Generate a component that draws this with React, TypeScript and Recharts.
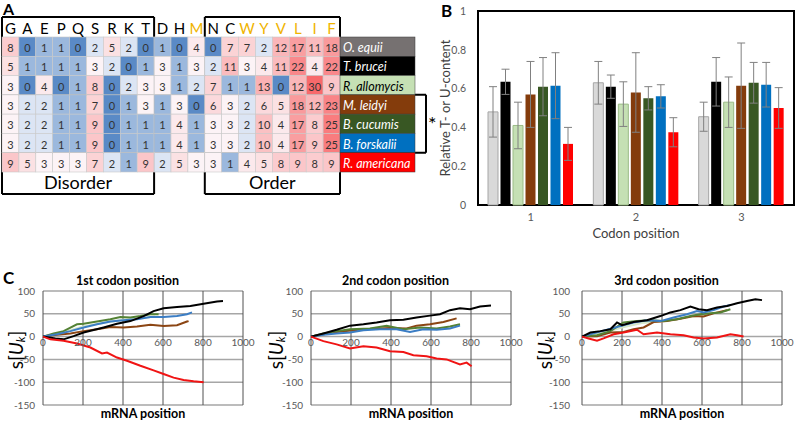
import React from 'react';
import {
  ScatterChart,
  Scatter,
  XAxis,
  YAxis,
  ReferenceLine,
  BarChart,
  Bar,
  ErrorBar,
  ReferenceArea,
  LineChart,
  Line,
  CartesianGrid,
} from 'recharts';

const FONT = 'Lato, "Noto Sans", sans-serif';

// ─── Panel A: residue counts per species ─────────────────────────────────────
const residues = ['G', 'A', 'E', 'P', 'Q', 'S', 'R', 'K', 'T', 'D', 'H', 'M', 'N', 'C', 'W', 'Y', 'V', 'L', 'I', 'F'];
const orangeResidues = ['M', 'W', 'Y', 'V', 'L', 'I', 'F'];
const speciesNames = ['O. equii', 'T. brucei', 'R. allomycis', 'M. leidyi', 'B. cucumis', 'B. forskalii', 'R. americana'];
const speciesFill = ['#767171', '#000000', '#c5e0b4', '#843c0c', '#385723', '#0070c0', '#ff0000'];
const speciesInk = ['#ffffff', '#ffffff', '#000000', '#ffffff', '#ffffff', '#ffffff', '#ffffff'];

const countsOEquii = [8, 0, 1, 1, 0, 2, 5, 2, 0, 1, 0, 4, 0, 7, 7, 2, 12, 17, 11, 18];
const countsTBrucei = [5, 1, 1, 1, 1, 3, 2, 0, 1, 3, 1, 3, 2, 11, 3, 4, 11, 22, 4, 22];
const countsRAllomycis = [3, 0, 4, 0, 1, 8, 0, 2, 3, 3, 1, 2, 7, 1, 1, 13, 0, 12, 30, 9];
const countsMLeidyi = [3, 2, 2, 1, 1, 7, 0, 1, 3, 1, 3, 0, 6, 3, 2, 6, 5, 18, 12, 23];
const countsBCucumis = [3, 2, 2, 1, 1, 9, 0, 1, 1, 1, 4, 1, 3, 3, 2, 10, 4, 17, 8, 25];
const countsBForskalii = [3, 2, 2, 1, 1, 9, 0, 1, 1, 1, 4, 1, 3, 3, 2, 10, 4, 17, 9, 25];
const countsRAmericana = [9, 5, 3, 3, 3, 7, 2, 1, 9, 2, 5, 3, 3, 1, 4, 5, 8, 9, 8, 9];
const regionNames = ['Disorder', 'Order'];

// ─── Panel B: relative T/U content ───────────────────────────────────────────
const codonPositions = ['1', '2', '3'];
const tuOEquii = [0.48, 0.63, 0.455];
const tuTBrucei = [0.635, 0.61, 0.635];
const tuRAllomycis = [0.41, 0.52, 0.53];
const tuMLeidyi = [0.57, 0.58, 0.615];
const tuBCucumis = [0.61, 0.55, 0.63];
const tuBForskalii = [0.615, 0.56, 0.62];
const tuRAmericana = [0.315, 0.375, 0.5];
const sdOEquii = [0.13, 0.11, 0.075];
const sdTBrucei = [0.065, 0.06, 0.125];
const sdRAllomycis = [0.12, 0.115, 0.13];
const sdMLeidyi = [0.17, 0.205, 0.22];
const sdBCucumis = [0.15, 0.06, 0.105];
const sdBForskalii = [0.17, 0.06, 0.115];
const sdRAmericana = [0.085, 0.075, 0.105];

// ─── Panel C: cumulative U skew along mRNA, [position, s] ─────────────────────
const c1LightGreen = [[0, 0], [100, 9], [200, 22], [300, 30], [400, 37], [500, 41], [560, 44]];
const c1Brown = [[0, 0], [70, 4], [137, 7], [203, 12], [270, 16], [337, 21], [403, 20], [470, 22], [537, 26], [603, 23], [670, 25], [720, 33], [728, 34]];
const c1Green = [[0, 0], [53, 7], [103, 12], [170, 27], [203, 28], [270, 33], [337, 38], [387, 43], [437, 42], [487, 45], [537, 49], [578, 49]];
const c1Blue = [[0, 0], [70, 5], [137, 12], [203, 20], [270, 27], [337, 33], [403, 36], [470, 38], [537, 43], [603, 43], [670, 45], [720, 49], [745, 53]];
const c1Black = [[0, 0], [62, -4], [103, -6], [153, 1], [203, 9], [303, 20], [370, 28], [437, 34], [503, 45], [553, 56], [603, 62], [670, 65], [737, 67], [803, 72], [870, 77], [900, 78]];
const c1Red = [[0, 0], [37, -6], [103, -9], [170, -15], [237, -24], [295, -37], [320, -35], [370, -46], [420, -53], [487, -64], [553, -74], [603, -82], [653, -90], [703, -95], [753, -98], [803, -100]];

const c2Brown = [[0, 0], [128, 10], [262, 16], [395, 19], [478, 18], [528, 24], [595, 27], [662, 32], [728, 40]];
const c2Green = [[0, 0], [62, 7], [128, 12], [195, 16], [295, 18], [378, 24], [462, 16], [545, 20], [628, 18], [695, 22], [745, 27]];
const c2Blue = [[0, 0], [62, 4], [128, 7], [195, 9], [262, 14], [345, 16], [428, 16], [495, 10], [562, 16], [628, 15], [695, 18], [745, 24]];
const c2Black = [[0, 0], [62, 7], [128, 15], [195, 24], [262, 27], [328, 31], [395, 36], [462, 37], [528, 42], [595, 46], [645, 49], [695, 58], [745, 62], [795, 60], [845, 66], [900, 68]];
const c2Red = [[0, 0], [62, -10], [128, -17], [195, -26], [262, -21], [328, -24], [395, -32], [462, -34], [512, -41], [578, -43], [628, -48], [678, -50], [745, -61], [778, -57], [803, -65]];

const c3LightGreen = [[0, 0], [100, 8], [200, 20], [300, 30], [400, 33], [500, 40], [600, 47], [700, 55]];
const c3Brown = [[0, 0], [75, 1], [142, 9], [208, 10], [258, 16], [308, 20], [358, 32], [425, 34], [492, 39], [558, 45], [608, 44], [658, 51], [725, 58]];
const c3Green = [[0, 0], [75, 3], [142, 12], [208, 31], [275, 34], [342, 36], [408, 34], [475, 38], [542, 45], [592, 49], [642, 51], [692, 53], [742, 60]];
const c3Blue = [[0, 0], [58, 7], [125, 15], [192, 23], [258, 31], [325, 36], [392, 34], [458, 42], [525, 49], [575, 56], [608, 53], [658, 58], [708, 66], [740, 69]];
const c3Black = [[0, 0], [42, 9], [92, 12], [142, 16], [175, 31], [200, 25], [258, 32], [325, 36], [392, 45], [442, 53], [492, 58], [542, 66], [583, 60], [625, 58], [675, 64], [725, 67], [775, 73], [825, 78], [867, 82], [900, 80]];
const c3Red = [[0, 0], [33, -4], [75, -9], [108, -4], [158, 5], [208, 9], [275, 15], [308, 5], [375, 9], [442, 5], [508, 3], [558, -2], [608, -4], [675, -2], [742, 5], [775, 3], [808, 0]];

const walkTicksX = [0, 200, 400, 600, 800, 1000];
const walkTicksY = [-150, -100, -50, 0, 50, 100];

// ─── helpers ─────────────────────────────────────────────────────────────────
const CW = 16.9; // cell width
const RH = 19.3; // row height
const A_TOP = 17;
const A_HEAD = 20;

function hexToRgb(h: string) {
  const n = parseInt(h.slice(1), 16);
  return [(n >> 16) & 255, (n >> 8) & 255, n & 255];
}
function mix(a: string, b: string, t: number) {
  const A = hexToRgb(a);
  const B = hexToRgb(b);
  const c = A.map((v, i) => Math.round(v + (B[i] - v) * t));
  return `rgb(${c[0]},${c[1]},${c[2]})`;
}
function heat(v: number) {
  const mid = 2.5;
  if (v <= mid) return mix('#fcfcff', '#5a8ac6', (mid - v) / mid);
  return mix('#fcfcff', '#f8696b', Math.pow((v - mid) / (30 - mid), 0.7));
}

const allCounts = [countsOEquii, countsTBrucei, countsRAllomycis, countsMLeidyi, countsBCucumis, countsBForskalii, countsRAmericana];
const cells = allCounts.flatMap((row, r) => row.map((v, c) => ({ c, r, v })));

function HeatCell(props: any) {
  const { cx, cy, payload } = props;
  return (
    <g>
      <rect x={cx - CW / 2} y={cy - RH / 2} width={CW} height={RH} fill={heat(payload.v)} stroke="#c9c9c9" strokeWidth={0.6} />
      <text x={cx} y={cy + 1} textAnchor="middle" dominantBaseline="central" fontSize={11} fill="#333" fontFamily={FONT}>
        {payload.v}
      </text>
    </g>
  );
}

function HeaderTick(props: any) {
  const { x, payload } = props;
  const letter = residues[payload.value];
  return (
    <text x={x} y={A_TOP + A_HEAD / 2 + 1} textAnchor="middle" dominantBaseline="central" fontSize={15} fontFamily={FONT}
      fill={orangeResidues.includes(letter) ? '#f0b400' : '#000'}>
      {letter}
    </text>
  );
}

function SpeciesTick(props: any) {
  const { x, y, payload } = props;
  const i = payload.value;
  return (
    <g>
      <rect x={x} y={y - RH / 2} width={75} height={RH} fill={speciesFill[i]} stroke="#3a3a3a" strokeWidth={0.5} />
      <text x={x + 3} y={y + 1} dominantBaseline="central" fontSize={12.5} fontStyle="italic" fontFamily={FONT} fill={speciesInk[i]}>
        {speciesNames[i]}
      </text>
    </g>
  );
}

const HT = -0.5 - A_HEAD / RH; // header top in row units
const BT = 6.5 + 22 / RH; // region box bottom
const BX = 19.5 + 86 / CW; // bracket x

const frame: [number, number, number, number][] = [
  [-0.5, HT, -0.5, BT],
  [8.5, HT, 8.5, BT],
  [11.5, HT, 11.5, BT],
  [19.5, HT, 19.5, BT],
  [-0.5, HT, 8.5, HT],
  [11.5, HT, 19.5, HT],
  [-0.5, 2.5, BX, 2.5],
  [-0.5, 5.5, BX, 5.5],
];
const regionBottoms: [number, number][] = [
  [-0.5, 8.5],
  [11.5, 19.5],
];

function PanelA() {
  return (
    <ScatterChart width={445} height={200} margin={{ top: A_TOP, right: 30, bottom: 28, left: 2 }}>
      <XAxis xAxisId="top" orientation="top" type="number" dataKey="c" domain={[-0.5, 19.5]}
        ticks={residues.map((_, i) => i)} interval={0} height={A_HEAD} axisLine={false} tickLine={false}
        tickSize={0} tickMargin={0} tick={<HeaderTick />} />
      <YAxis yAxisId="sp" orientation="right" type="number" dataKey="r" domain={[-0.5, 6.5]} reversed
        ticks={speciesNames.map((_, i) => i)} interval={0} width={75} axisLine={false} tickLine={false}
        tickSize={0} tickMargin={0} tick={<SpeciesTick />} />
      <Scatter data={cells} xAxisId="top" yAxisId="sp" shape={(p: any) => <HeatCell {...p} />} isAnimationActive={false} />
      {frame.map((s, i) => (
        <ReferenceLine key={i} xAxisId="top" yAxisId="sp" ifOverflow="visible"
          segment={[{ x: s[0], y: s[1] }, { x: s[2], y: s[3] }]} stroke="#000" strokeWidth={2} />
      ))}
      {regionBottoms.map((s, i) => (
        <ReferenceLine key={'r' + i} xAxisId="top" yAxisId="sp" ifOverflow="visible"
          segment={[{ x: s[0], y: BT }, { x: s[1], y: BT }]} stroke="#000" strokeWidth={2}
          label={{ value: regionNames[i], position: 'top', offset: 5, fontSize: 18, fill: '#000', fontFamily: FONT }} />
      ))}
      <ReferenceLine xAxisId="top" yAxisId="sp" ifOverflow="visible"
        segment={[{ x: BX, y: 2.5 }, { x: BX, y: 5.5 }]} stroke="#000" strokeWidth={2}
        label={{ value: '*', position: 'right', fontSize: 20, fill: '#000', offset: 2 }} />
    </ScatterChart>
  );
}

// ─── Panel B ─────────────────────────────────────────────────────────────────
const barSeries = [
  { key: 'oe', values: tuOEquii, errors: sdOEquii, fill: '#d9d9d9', stroke: '#a6a6a6' },
  { key: 'tb', values: tuTBrucei, errors: sdTBrucei, fill: '#000000', stroke: 'none' },
  { key: 'ra', values: tuRAllomycis, errors: sdRAllomycis, fill: '#c5e0b4', stroke: '#9bbb86' },
  { key: 'ml', values: tuMLeidyi, errors: sdMLeidyi, fill: '#843c0c', stroke: 'none' },
  { key: 'bc', values: tuBCucumis, errors: sdBCucumis, fill: '#385723', stroke: 'none' },
  { key: 'bf', values: tuBForskalii, errors: sdBForskalii, fill: '#0070c0', stroke: 'none' },
  { key: 'rm', values: tuRAmericana, errors: sdRAmericana, fill: '#ff0000', stroke: 'none' },
];

const barData = codonPositions.map((pos, i) => {
  const row: any = { pos };
  barSeries.forEach((s) => {
    row[s.key] = s.values[i];
    row[s.key + 'Err'] = s.errors[i];
  });
  return row;
});

const B_TOP = 11;
const B_PLOT_H = 194;

function BarYTitle() {
  const cx = 25;
  const cy = B_TOP + B_PLOT_H / 2;
  return (
    <text x={cx} y={cy} transform={`rotate(-90, ${cx}, ${cy})`} textAnchor="middle" dominantBaseline="central"
      fontSize={13} fill="#404040" fontFamily={FONT}>
      Relative T- or U-content
    </text>
  );
}

function BarXTitle(props: any) {
  const { viewBox } = props;
  return (
    <text x={viewBox.x + viewBox.width / 2} y={B_TOP + B_PLOT_H + 33} textAnchor="middle" fontSize={13} fill="#404040" fontFamily={FONT}>
      Codon position
    </text>
  );
}

function PanelB() {
  return (
    <BarChart width={375} height={245} data={barData} margin={{ top: B_TOP, right: 1, left: 0, bottom: 0 }}
      barSize={10} barGap={2.5}>
      <XAxis dataKey="pos" height={40} axisLine={false} tickLine={false} tickSize={0} tickMargin={8}
        tick={{ fontSize: 11, fill: '#595959', fontFamily: FONT }} label={<BarXTitle />} />
      <YAxis domain={[0, 1]} ticks={[0, 0.2, 0.4, 0.6, 0.8, 1]} width={58} axisLine={false} tickLine={false}
        tickSize={0} tickMargin={12} tick={{ fontSize: 10.5, fill: '#595959', fontFamily: FONT }} label={<BarYTitle />} />
      {barSeries.map((s) => (
        <Bar key={s.key} dataKey={s.key} fill={s.fill} stroke={s.stroke} strokeWidth={1} isAnimationActive={false}>
          <ErrorBar dataKey={s.key + 'Err'} width={4} stroke="#808080" strokeWidth={1} />
        </Bar>
      ))}
      <ReferenceArea y1={0} y2={1} fill="none" stroke="#000" strokeWidth={2} ifOverflow="visible" />
    </BarChart>
  );
}

// ─── Panel C ─────────────────────────────────────────────────────────────────
const PLOT_H = 114;
const ZERO_DROP = (PLOT_H * 150) / 250;
const C_TOP = 23;
const C_ML = 12; // extra left room so the rotated title is not clipped

function ZeroTick(props: any) {
  const { x, y, payload } = props;
  return (
    <text x={x} y={y - ZERO_DROP + 1} textAnchor="middle" dominantBaseline="hanging" fontSize={10} fill="#595959" fontFamily={FONT}>
      {payload.value}
    </text>
  );
}

function WalkXTitle(props: any) {
  const { viewBox } = props;
  return (
    <text x={viewBox.x + viewBox.width / 2} y={C_TOP + PLOT_H + 13} textAnchor="middle" fontSize={12.5}
      fontWeight={700} fill="#000" fontFamily={FONT}>
      mRNA position
    </text>
  );
}

function SkewTitle({ gap }: any) {
  const cx = C_ML + 43 - gap;
  const cy = C_TOP + PLOT_H / 2 + 2;
  return (
    <text x={cx} y={cy} transform={`rotate(-90, ${cx}, ${cy})`} textAnchor="middle" dominantBaseline="central"
      fontSize={19} fill="#000" fontFamily={FONT}>
      s[<tspan fontStyle="italic">U</tspan>
      <tspan fontSize={12} fontStyle="italic" dy={5}>k</tspan>
      <tspan dy={-5}>]</tspan>
    </text>
  );
}

const toPts = (a: number[][]) => a.map(([x, y]) => ({ x, y }));

function WalkChart({ title, plotLeft, series, gap, tickGap }: any) {
  const left = plotLeft - 43 - C_ML;
  const w = 255 + C_ML;
  return (
    <div style={{ position: 'absolute', left, top: 268, width: w, height: 153 }}>
      <div style={{ position: 'absolute', top: 5, left: C_ML, width: 255, textAlign: 'center', fontSize: 12.5, fontWeight: 700, lineHeight: '15px' }}>
        {title}
      </div>
      <LineChart width={w} height={153} margin={{ top: C_TOP, right: 12, bottom: 0, left: C_ML }}>
        <CartesianGrid vertical={false} stroke="#a6a6a6" strokeWidth={1.5} />
        <CartesianGrid horizontal={false} stroke="#505050" strokeWidth={1} />
        <XAxis type="number" dataKey="x" domain={[0, 1000]} ticks={walkTicksX} interval={0} height={16}
          axisLine={false} tickLine={false} tickSize={0} tickMargin={0} tick={<ZeroTick />} label={<WalkXTitle />} />
        <YAxis type="number" domain={[-150, 100]} ticks={walkTicksY} interval={0} width={43} axisLine={false}
          tickLine={false} tickSize={0} tickMargin={tickGap} tick={{ fontSize: 10, fill: '#595959', fontFamily: FONT }}
          label={<SkewTitle gap={gap} />} />
        {series.map((s: any, i: number) => (
          <Line key={i} data={toPts(s.pts)} dataKey="y" type="linear" stroke={s.color} strokeWidth={2} dot={false}
            isAnimationActive={false} />
        ))}
      </LineChart>
    </div>
  );
}

const LG = '#d6e8c8';
const BR = '#8b4513';
const GR = '#548235';
const BL = '#3b7dc4';
const BK = '#000000';
const RD = '#f01414';

export default function App() {
  return (
    <div style={{ position: 'absolute', left: 0, top: 0, width: 795, height: 421, background: '#fff', fontFamily: FONT, overflow: 'hidden' }}>
      <div style={{ position: 'absolute', left: 0, top: 0 }}>
        <PanelA />
      </div>
      <div style={{ position: 'absolute', left: 420, top: 0 }}>
        <PanelB />
      </div>
      <div style={{ position: 'absolute', left: 3, top: 1, fontSize: 16, fontWeight: 700, lineHeight: '16px' }}>A</div>
      <div style={{ position: 'absolute', left: 441, top: 2, fontSize: 17, fontWeight: 700, lineHeight: '17px' }}>B</div>
      <div style={{ position: 'absolute', left: 3, top: 269, fontSize: 17, fontWeight: 700, lineHeight: '17px' }}>C</div>
      <WalkChart title="1st codon position" plotLeft={43} gap={28} tickGap={8}
        series={[
          { pts: c1LightGreen, color: LG }, { pts: c1Brown, color: BR }, { pts: c1Green, color: GR },
          { pts: c1Blue, color: BL }, { pts: c1Black, color: BK }, { pts: c1Red, color: RD },
        ]} />
      <WalkChart title="2nd codon position" plotLeft={311} gap={36} tickGap={8}
        series={[
          { pts: c2Brown, color: BR }, { pts: c2Green, color: GR },
          { pts: c2Blue, color: BL }, { pts: c2Black, color: BK }, { pts: c2Red, color: RD },
        ]} />
      <WalkChart title="3rd codon position" plotLeft={582} gap={38} tickGap={12}
        series={[
          { pts: c3LightGreen, color: LG }, { pts: c3Brown, color: BR }, { pts: c3Green, color: GR },
          { pts: c3Blue, color: BL }, { pts: c3Black, color: BK }, { pts: c3Red, color: RD },
        ]} />
    </div>
  );
}
